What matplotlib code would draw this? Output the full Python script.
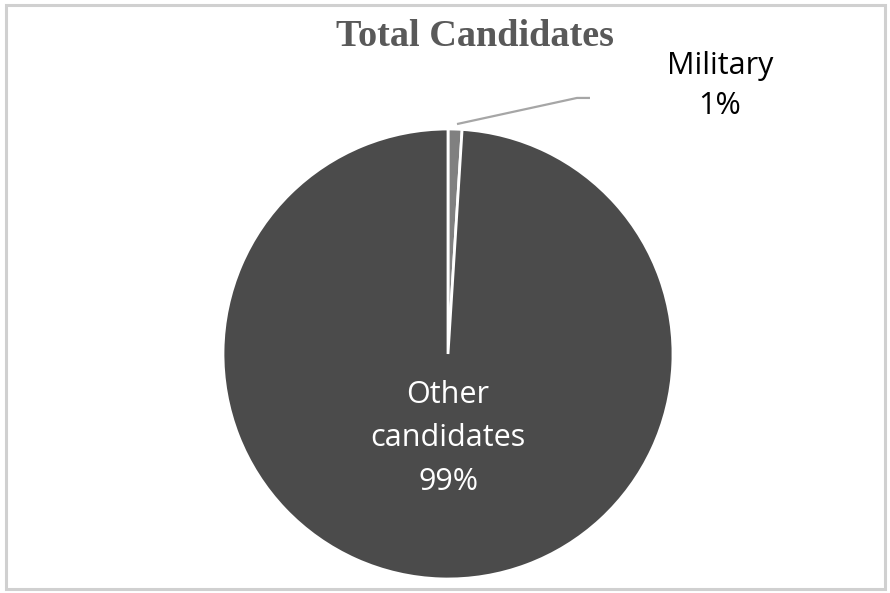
import matplotlib
matplotlib.use("Agg")
import matplotlib.pyplot as plt
from matplotlib.patches import Rectangle

# slice data, Excel order: first slice starts at 12 o'clock, clockwise
LABELS = ["Military", "Other\ncandidates"]
VALUES = [1, 99]
COLORS = ["#808080", "#4b4b4b"]

W, H = 890, 593
CX, CY, R = 448, 354, 225

fig = plt.figure(figsize=(W / 100, H / 100), dpi=100)
fig.patch.set_facecolor("white")

# light frame around the chart area
fig.add_artist(Rectangle((6 / W, 4 / H), 879 / W, 584 / H, transform=fig.transFigure,
                         fill=False, edgecolor="#d0d0d0", linewidth=2.2))

ax = fig.add_axes([(CX - R) / W, (H - CY - R) / H, 2 * R / W, 2 * R / H])
ax.pie(VALUES, colors=COLORS, startangle=90, counterclock=False, radius=1,
       wedgeprops=dict(edgecolor="white", linewidth=2.0))
ax.set_xlim(-1, 1)
ax.set_ylim(-1, 1)
ax.set_aspect("equal")
ax.axis("off")

total = sum(VALUES)
pct = [f"{v / total * 100:.0f}%" for v in VALUES]

# leader line for the small slice
ax.plot([0.04, 0.573, 0.631], [1.022, 1.138, 1.138], color="#a6a6a6",
        linewidth=1.6, clip_on=False, solid_capstyle="butt")
ax.text(1.209, 1.19, f"{LABELS[0]}\n{pct[0]}", ha="center", va="center",
        fontsize=22, family="Open Sans", color="black", linespacing=1.45,
        clip_on=False)

ax.text(0, -0.375, f"{LABELS[1]}\n{pct[1]}", ha="center", va="center",
        fontsize=22, family="Open Sans", color="white", linespacing=1.6)

fig.text(475 / W, 1 - 37 / H, "Total Candidates", ha="center", va="center",
         fontsize=27.5, fontweight="bold", family="Liberation Serif", color="#595959")

fig.savefig("out.png", dpi=100)
